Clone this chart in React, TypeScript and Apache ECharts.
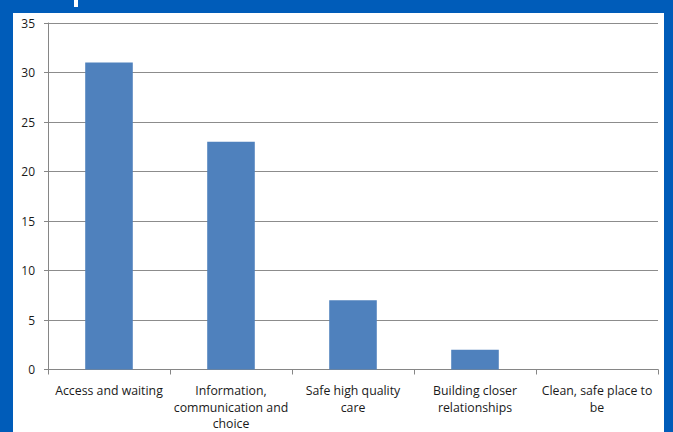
import React, { useEffect, useRef } from "react";
import * as echarts from "echarts";

const categories = [
  "Access and waiting",
  "Information,\ncommunication and\nchoice",
  "Safe high quality\ncare",
  "Building closer\nrelationships",
  "Clean, safe place to\nbe",
];
const values = [31, 23, 7, 2, 0];
const yTicks = { min: 0, max: 35, interval: 5 };

export default function App() {
  const ref = useRef<HTMLDivElement>(null);
  useEffect(() => {
    document.body.style.margin = "0";
    const chart = echarts.init(ref.current!, undefined, { renderer: "svg" });
    chart.setOption({
      animation: false,
      backgroundColor: "#005CB9",
      graphic: [
        {
          type: "rect",
          shape: { x: 13, y: 13, width: 651, height: 432 },
          style: { fill: "#ffffff" },
          z: -10,
        },
        {
          type: "rect",
          shape: { x: 74, y: 0, width: 4, height: 7 },
          style: { fill: "#ffffff" },
        },
      ],
      grid: { left: 48, right: 15, top: 23, bottom: 62 },
      xAxis: {
        type: "category",
        data: categories,
        axisLine: { lineStyle: { color: "#868686" } },
        axisTick: { show: true, length: 5, lineStyle: { color: "#868686" } },
        axisLabel: {
          color: "#1a1a1a",
          fontFamily: "Open Sans",
          fontSize: 12.3,
          lineHeight: 16.5,
          margin: 13,
          interval: 0,
        },
      },
      yAxis: {
        type: "value",
        min: yTicks.min,
        max: yTicks.max,
        interval: yTicks.interval,
        axisLine: { show: true, lineStyle: { color: "#868686" } },
        axisTick: { show: true, length: 4, lineStyle: { color: "#868686" } },
        splitLine: { lineStyle: { color: "#8c8c8c", width: 1 } },
        axisLabel: {
          color: "#1a1a1a",
          fontFamily: "Open Sans",
          fontSize: 12,
          margin: 13,
        },
      },
      series: [
        {
          type: "bar",
          data: values,
          barWidth: "39%",
          itemStyle: { color: "#4F81BD" },
        },
      ],
    });
    return () => chart.dispose();
  }, []);
  return <div ref={ref} style={{ width: 673, height: 432 }} />;
}
